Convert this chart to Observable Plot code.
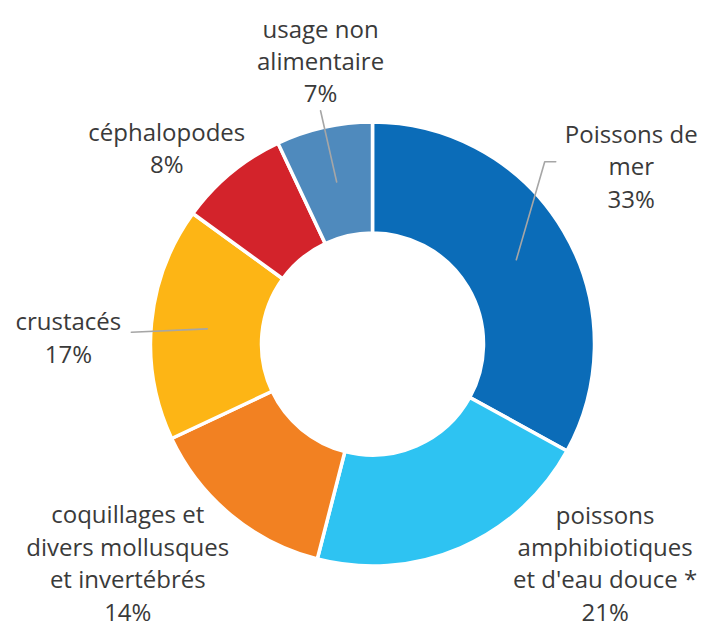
<!DOCTYPE html>
<html><head><meta charset="utf-8">
<script src="https://cdn.jsdelivr.net/npm/d3@7"></script>
<script src="https://cdn.jsdelivr.net/npm/@observablehq/plot@0.6"></script>
<style>body{margin:0;background:#fff}</style>
</head><body><div id="chart"></div>
<script>
// ---- data ----
const categories = [
  "Poissons de mer",
  "poissons amphibiotiques et d'eau douce *",
  "coquillages et divers mollusques et invertébrés",
  "crustacés",
  "céphalopodes",
  "usage non alimentaire"
];
const labelLines = [
  ["Poissons de", "mer"],
  ["poissons", "amphibiotiques", "et d'eau douce *"],
  ["coquillages et", "divers mollusques", "et invertébrés"],
  ["crustacés"],
  ["céphalopodes"],
  ["usage non", "alimentaire"]
];
const shares = [33, 21, 14, 17, 8, 7];
const colors = ["#0b6cb8", "#2ec3f2", "#f28122", "#fdb515", "#d3232b", "#4f8abd"];

// ---- layout (pixels) ----
const W = 702, H = 627;
const CX = 372.5, CY = 344;
const R_OUT = 222, R_IN = 111, R_LABEL = 300;
// label nudges from the radial anchor, and leader lines (relative to label anchor)
const nudge = {
  "Poissons de mer": [0, -27],
  "poissons amphibiotiques et d'eau douce *": [113, -58],
  "coquillages et divers mollusques et invertébrés": [-54, -14],
  "crustacés": [-6, 20],
  "céphalopodes": [-15, 33],
  "usage non alimentaire": [13, 8]
};
const leaderPath = {
  "Poissons de mer": [[-75.5, -3], [-86.5, -3]],
  "crustacés": [[63, -4]],
  "usage non alimentaire": [[0, 51]]
};

const rows = categories.map((c, i) => ({category: c, lines: labelLines[i], share: shares[i]}));
const arcs = d3.pie().sort(null).value(d => d.share)(rows);
const slices = arcs.map(a => ({...a.data, startAngle: a.startAngle, endAngle: a.endAngle, mid: (a.startAngle + a.endAngle) / 2}));

const labels = slices.map(s => {
  const [dx, dy] = nudge[s.category];
  return {...s, lx: R_LABEL * Math.sin(s.mid) + dx, ly: -R_LABEL * Math.cos(s.mid) + dy};
});

const leaders = [];
for (const l of labels) {
  const path = leaderPath[l.category];
  if (!path) continue;
  const rm = (R_OUT + R_IN) / 2;
  leaders.push({category: l.category, x: rm * Math.sin(l.mid), y: -rm * Math.cos(l.mid)});
  for (const [px, py] of path.slice().reverse()) leaders.push({category: l.category, x: l.lx + px, y: l.ly + py});
}
const font = "'Open Sans', Lato, sans-serif";

const chart = Plot.plot({
  width: W, height: H, margin: 0,
  style: {fontFamily: font, background: "#fff"},
  x: {domain: [-CX, W - CX], range: [0, W], axis: null},
  y: {domain: [-CY, H - CY], range: [0, H], axis: null},
  color: {domain: categories, range: colors},
  marks: [
    Plot.dot(slices, {
      x: () => 0, y: () => 0, fill: "category",
      render(index, scales, values) {
        const g = d3.create("svg:g");
        const rOut = scales.x(R_OUT) - scales.x(0);
        const rIn = scales.x(R_IN) - scales.x(0);
        const arc = d3.arc().innerRadius(rIn).outerRadius(rOut);
        for (const i of index) {
          const s = slices[i];
          g.append("path")
            .attr("transform", `translate(${values.x[i]},${values.y[i]})`)
            .attr("d", arc({startAngle: s.startAngle, endAngle: s.endAngle}))
            .attr("fill", values.fill[i])
            .attr("stroke", "#fff")
            .attr("stroke-width", 3.5)
            .attr("stroke-linejoin", "miter");
        }
        return g.node();
      }
    }),
    Plot.line(leaders, {x: "x", y: "y", z: "category", stroke: "#a6a6a6", strokeWidth: 1.6}),
    Plot.text(labels, {
      x: "lx", y: "ly",
      text: d => [...d.lines, d.share + "%"].join("\n"),
      fontSize: 24, lineHeight: 1.35, fill: "#3a3a3a", textAnchor: "middle", fontFamily: font
    })
  ]
});
document.getElementById("chart").append(chart);
</script>
</body></html>
